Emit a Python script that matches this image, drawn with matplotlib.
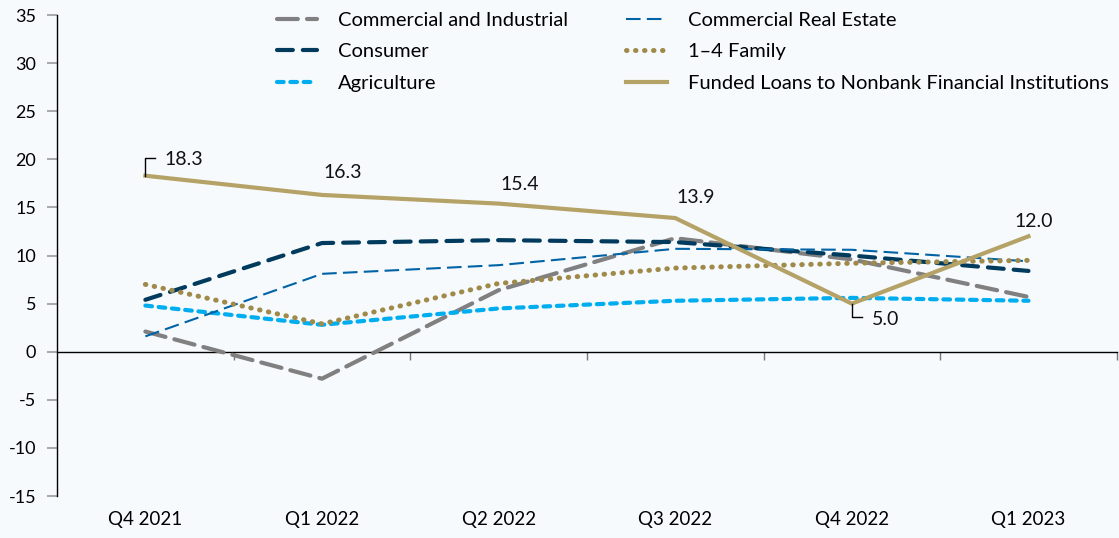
import matplotlib
matplotlib.use("Agg")
import matplotlib.pyplot as plt

quarters = ["Q4 2021", "Q1 2022", "Q2 2022", "Q3 2022", "Q4 2022", "Q1 2023"]
comm_industrial = [2.1, -2.8, 6.4, 11.8, 9.6, 5.7]
consumer = [5.4, 11.3, 11.6, 11.4, 10.0, 8.4]
agriculture = [4.8, 2.8, 4.5, 5.3, 5.6, 5.3]
comm_real_estate = [1.6, 8.1, 9.0, 10.7, 10.6, 9.4]
family_1_4 = [7.0, 2.9, 7.1, 8.7, 9.2, 9.5]
nonbank = [18.3, 16.3, 15.4, 13.9, 5.0, 12.0]

yticks = list(range(-15, 40, 5))
bg = "#f7fafd"

plt.rcParams["font.family"] = ["Lato", "DejaVu Sans"]

fig = plt.figure(figsize=(11.19, 5.38), dpi=100, facecolor=bg)
ax = fig.add_axes([0.051, 0.078, 0.947, 0.894], facecolor=bg)
x = list(range(len(quarters)))

ax.plot(x, comm_industrial, color="#808080", lw=3, dashes=(5, 2.2),
        dash_capstyle="round", label="Commercial and Industrial", zorder=3)
ax.plot(x, consumer, color="#003a5d", lw=3, dashes=(3.8, 2.4),
        dash_capstyle="round", label="Consumer", zorder=3)
ax.plot(x, agriculture, color="#00aeef", lw=3, dashes=(1.6, 1.6),
        dash_capstyle="round", label="Agriculture", zorder=3)
ax.plot(x, comm_real_estate, color="#0063a6", lw=1.5, dashes=(7, 3),
        label="Commercial Real Estate", zorder=3)
ax.plot(x, family_1_4, color="#a08a4a", lw=3.6, dashes=(0.1, 1.7),
        dash_capstyle="round", label="1\u20134 Family", zorder=3)
ax.plot(x, nonbank, color="#b5a267", lw=3,
        label="Funded Loans to Nonbank Financial Institutions", zorder=4)

# value labels for the nonbank series
lab_kw = dict(fontsize=14, color="#111111")
ax.annotate(f"{nonbank[0]:.1f}", xy=(0, nonbank[0]), xytext=(14, 12),
            textcoords="offset points", va="center", ha="left", **lab_kw)
ax.plot([0, 0, 0.055], [nonbank[0], nonbank[0] + 1.8, nonbank[0] + 1.8],
        color="black", lw=1, zorder=5)
for i, dy in ((1, 16.5), (2, 14), (3, 14.5)):
    ax.annotate(f"{nonbank[i]:.1f}", xy=(i, nonbank[i]), xytext=(15, dy),
                textcoords="offset points", ha="center", va="center", **lab_kw)
ax.annotate(f"{nonbank[4]:.1f}", xy=(4, nonbank[4]), xytext=(14.5, -11.5),
            textcoords="offset points", va="center", ha="left", **lab_kw)
ax.plot([4, 4, 4.06], [nonbank[4], nonbank[4] - 1.4, nonbank[4] - 1.4],
        color="black", lw=1, zorder=5)
ax.annotate(f"{nonbank[5]:.1f}", xy=(5, nonbank[5]), xytext=(4, 10.5),
            textcoords="offset points", ha="center", va="center", **lab_kw)

ax.set_xlim(-0.5, len(quarters) - 0.5)
ax.set_ylim(-15, 35)
ax.set_yticks(yticks)
ax.set_yticklabels([str(v) for v in yticks])
ax.set_xticks(x)
ax.set_xticklabels(quarters)
ax.tick_params(axis="x", length=0, pad=11, labelsize=13.5)
ax.tick_params(axis="y", length=7, width=1.2, color="#9a9a9a", pad=8,
               labelsize=13)
for s in ("top", "right", "bottom"):
    ax.spines[s].set_visible(False)
ax.spines["left"].set_linewidth(1)

# zero line with category boundary ticks
zero = ax.secondary_xaxis(15 / 50)
zero.set_xticks([i - 0.5 for i in range(1, len(quarters) + 1)])
zero.set_xticklabels([])
zero.tick_params(length=6, color="#777777", width=1)
zero.spines["bottom"].set_linewidth(1)

leg = ax.legend(ncol=2, loc="upper left", bbox_to_anchor=(0.19, 1.045),
                frameon=False, fontsize=14.5, handlelength=2.0,
                columnspacing=2.9, labelspacing=0.72, handletextpad=1.05)

fig.savefig("out.png", dpi=100, facecolor=bg)
